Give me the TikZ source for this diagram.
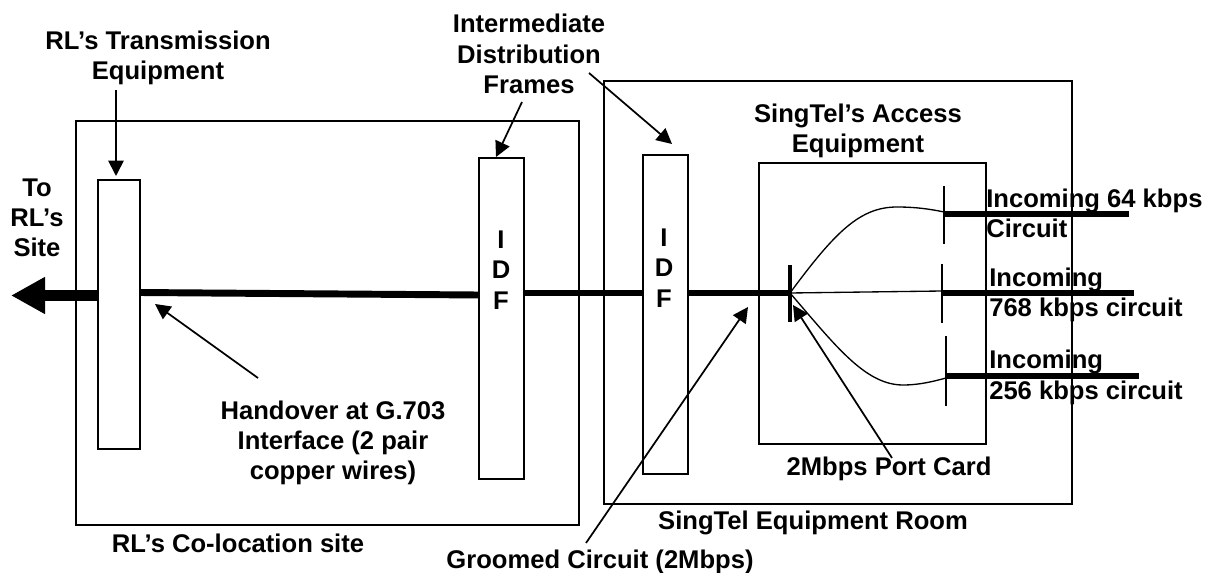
\documentclass[tikz,border=0pt]{standalone}
\usepackage{fontspec}
\setmainfont{Liberation Sans}
\usetikzlibrary{arrows.meta}
\tikzset{
  lbl/.style={font=\bfseries\fontsize{19.2}{22.7}\selectfont,align=center,inner sep=0pt},
  lblleft/.style={lbl,align=left,anchor=west},
  box/.style={draw,line width=1.3pt,inner sep=0pt,anchor=north west},
  rack/.style={box,fill=white},
  pointer/.style={line width=1.3pt,-{Triangle[length=11.5pt,width=11.5pt]}},
  trunk/.style={line width=4.6pt},
  feed/.style={line width=4pt},
  tick/.style={line width=1.1pt},
  branch/.style={line width=1pt}
}
\begin{document}
\begin{tikzpicture}[x=0.75pt,y=-0.75pt]
  \useasboundingbox (0,0) rectangle (1220,573);
  %% the two rooms and the access equipment
  \node[box,minimum width=377.25pt,minimum height=303pt] (colo) at (75,120) {};
  \node[box,minimum width=351pt,minimum height=317.25pt] (room) at (603,80) {};
  \node[box,minimum width=170.25pt,minimum height=210.75pt] (access) at (758,162) {};
  %% main circuit, left to right
  \coordinate (tipleft) at (11,295.5);
  \coordinate (txleft) at (97,295.5);
  \coordinate (txright) at (139,292.5);
  \coordinate (idfaleft) at (478,295);
  \coordinate (idfaright) at (525,293);
  \coordinate (idfbleft) at (642,293);
  \coordinate (idfbright) at (687,293);
  \coordinate (port) at (790,293);
  \draw[line width=8pt,-{Triangle[length=25.5pt,width=26pt]}] (txleft) -- (tipleft);
  \draw[line width=5.2pt] (txright) -- (idfaleft);
  \draw[trunk] (idfaright) -- (idfbleft);
  \draw[trunk] (idfbright) -- (port);
  %% frames on top of the circuit
  \node[rack,minimum width=31.5pt,minimum height=201.75pt] (tx) at (97,179) {};
  \node[rack,minimum width=33.75pt,minimum height=240.75pt] (idfa) at (478,157) {};
  \node[rack,minimum width=33.75pt,minimum height=239.25pt] (idfb) at (642,154) {};
  \node[lbl] (idfatext) at (501,270) {I\\D\\F};
  \node[lbl] (idfbtext) at (664,268) {I\\D\\F};
  %% port card and the incoming tails
  \coordinate (porttop) at (790,265);
  \coordinate (portbot) at (790,322);
  \draw[line width=2.4pt] (porttop) -- (portbot);
  \foreach \name/\x/\top/\bot/\ya/\yb/\xend in {a/944/186/244/214/212/1129, b/942/264/323/293/291/1134, c/946/336/406/376/378/1139} {
    \coordinate (tick\name top) at (\x,\top);
    \coordinate (tick\name bot) at (\x,\bot);
    \coordinate (tail\name) at (\x,\ya);
    \coordinate (join\name) at (\x,\yb);
    \coordinate (end\name) at (\xend,\ya);
    \draw[tick] (tick\name top) -- (tick\name bot);
    \draw[feed] (tail\name) -- (end\name);
  }
  \draw[branch] (port) .. controls (835,232) and (860,207) .. (897,207) .. controls (915,207) and (930,209) .. (joina);
  \draw[branch] (port) -- (joinb);
  \draw[branch] (port) .. controls (835,345) and (865,385) .. (903,385) .. controls (920,385) and (935,381) .. (joinc);
  %% texts
  \node[lbl] (txlabel) at (158,58) {RL’s Transmission\\Equipment};
  \node[lbl] (tosite) at (37,218) {To\\RL’s\\Site};
  \node[lbl] (idflabel) at (529,54) {Intermediate\\Distribution\\Frames};
  \node[lbl] (accesslabel) at (858,131) {SingTel’s Access\\Equipment};
  \node[lbl] (handover) at (333,443) {Handover at G.703\\Interface (2 pair\\copper wires)};
  \node[lbl] (portlabel) at (889,469) {2Mbps Port Card};
  \node[lbl] (roomlabel) at (813,523) {SingTel Equipment Room};
  \node[lbl] (cololabel) at (238,543) {RL’s Co-location site};
  \node[lbl] (groomed) at (600,562) {Groomed Circuit (2Mbps)};
  \node[lblleft] (inca) at (986,213) {Incoming 64 kbps\\Circuit};
  \node[lblleft] (incb) at (989,295) {Incoming\\768 kbps circuit};
  \node[lblleft] (incc) at (989,377.5) {Incoming\\256 kbps circuit};
  %% pointers
  \coordinate (txfrom) at (116,90);
  \coordinate (txto) at (116,176);
  \coordinate (idfafrom) at (522,102);
  \coordinate (idfato) at (496,157);
  \coordinate (idfbfrom) at (589,73);
  \coordinate (idfbto) at (672,144);
  \coordinate (handfrom) at (258,378);
  \coordinate (handto) at (155,304);
  \coordinate (groomfrom) at (586,543);
  \coordinate (groomto) at (748,307);
  \coordinate (portfrom) at (892,458);
  \coordinate (portto) at (793,305);
  \foreach \from/\to in {txfrom/txto, idfafrom/idfato, idfbfrom/idfbto, handfrom/handto, groomfrom/groomto, portfrom/portto} {
    \draw[pointer] (\from) -- (\to);
  }
\end{tikzpicture}
\end{document}
